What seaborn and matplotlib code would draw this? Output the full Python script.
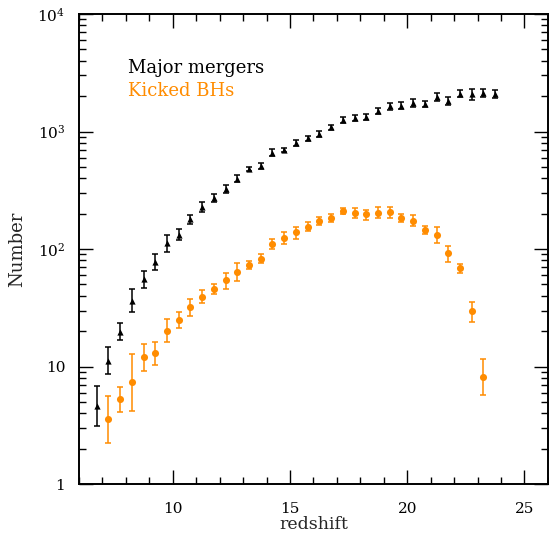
import numpy as np
import pandas as pd
import seaborn as sns
import matplotlib
matplotlib.use("Agg")
import matplotlib.pyplot as plt
from matplotlib.ticker import FixedLocator, FixedFormatter, MultipleLocator

# --- Data ---
z_major = [6.75, 7.25, 7.75, 8.25, 8.75, 9.25, 9.75, 10.25, 10.75, 11.25,
           11.75, 12.25, 12.75, 13.25, 13.75, 14.25, 14.75, 15.25, 15.75, 16.25,
           16.75, 17.25, 17.75, 18.25, 18.75, 19.25, 19.75, 20.25, 20.75, 21.25,
           21.75, 22.25, 22.75, 23.25, 23.75]
n_major = [4.6, 11.2, 19.9, 36.5, 55.7, 78.3, 112, 132, 180, 229,
           274, 325, 395, 482, 514, 663, 695, 806, 879, 956,
           1089, 1258, 1301, 1334, 1492, 1634, 1665, 1745, 1730, 1962,
           1824, 2105, 2080, 2123, 2080]
major_err_lo = [1.45, 2.6, 3.0, 7.1, 8.7, 11.8, 18, 13, 16, 21,
                20, 26, 24, 22, 30, 43, 28, 48, 44, 57,
                55, 82, 78, 80, 90, 115, 117, 140, 104, 157,
                128, 147, 208, 170, 166]
major_err_hi = [2.3, 3.4, 3.5, 9.1, 9.9, 12.7, 20, 15, 15, 22,
                21, 29, 28, 22, 30, 43, 28, 48, 44, 57,
                55, 82, 78, 80, 90, 115, 117, 140, 104, 157,
                128, 147, 208, 170, 166]

z_kicked = [7.25, 7.75, 8.25, 8.75, 9.25, 9.75, 10.25, 10.75, 11.25, 11.75,
            12.25, 12.75, 13.25, 13.75, 14.25, 14.75, 15.25, 15.75, 16.25, 16.75,
            17.25, 17.75, 18.25, 18.75, 19.25, 19.75, 20.25, 20.75, 21.25, 21.75,
            22.25, 22.75, 23.25]
n_kicked = [3.57, 5.34, 7.37, 12.0, 13.0, 20.2, 25.1, 32.0, 39.4, 45.8,
            54.2, 64.4, 73.8, 83.0, 111, 125, 139, 155, 174, 184,
            210, 202, 197, 203, 205, 183, 175, 145, 132, 92.3,
            69.2, 29.6, 8.13]
kicked_err_lo = [1.33, 1.2, 3.15, 2.8, 2.7, 4.1, 3.9, 5.0, 4.6, 4.2,
                 8.6, 10.8, 6.4, 6.3, 11.2, 14, 16, 13, 14, 14,
                 12, 19, 21, 18, 22, 14, 18, 11, 20, 14.5,
                 6.1, 5.4, 2.4]
kicked_err_hi = [2.06, 1.42, 5.4, 3.7, 3.1, 5.1, 4.1, 5.7, 5.3, 4.5,
                 8.1, 11.4, 6.0, 7.5, 10, 14, 16, 14, 13, 15,
                 13, 21, 20, 23, 22, 15, 19, 12, 23, 14.7,
                 6.1, 6.1, 3.4]

y_ticks = [1, 10, 100, 1000, 10000]
y_labels = ['1', '10', '$10^2$', '$10^3$', '$10^4$']

major = pd.DataFrame({'redshift': z_major, 'Number': n_major})
kicked = pd.DataFrame({'redshift': z_kicked, 'Number': n_kicked})

sns.set_style("ticks")
plt.rcParams['font.family'] = ['DejaVu Serif']
plt.rcParams['mathtext.fontset'] = 'dejavuserif'

fig = plt.figure(figsize=(5.49, 5.38), dpi=100)
ax = fig.add_axes([0.144, 0.1, 0.854, 0.874])

orange = '#FF8C00'

# Major mergers
ax.errorbar(z_major, n_major, yerr=[major_err_lo, major_err_hi], fmt='none',
            ecolor='black', elinewidth=1.1, capsize=2.3, capthick=1.1, zorder=2)
sns.scatterplot(data=major, x='redshift', y='Number', marker='^', s=20,
                color='black', edgecolor='black', linewidth=0, ax=ax, zorder=3)

# Kicked BHs
ax.errorbar(z_kicked, n_kicked, yerr=[kicked_err_lo, kicked_err_hi], fmt='none',
            ecolor=orange, elinewidth=1.1, capsize=2.3, capthick=1.1, zorder=2)
sns.scatterplot(data=kicked, x='redshift', y='Number', marker='o', s=26,
                color=orange, edgecolor=orange, linewidth=0, ax=ax, zorder=3)

ax.set_yscale('log')
ax.set_xlim(6, 26)
ax.set_ylim(1, 10000)

ax.xaxis.set_major_locator(MultipleLocator(5))
ax.xaxis.set_minor_locator(MultipleLocator(1))
ax.yaxis.set_major_locator(FixedLocator(y_ticks))
ax.yaxis.set_major_formatter(FixedFormatter(y_labels))

ax.tick_params(which='both', direction='in', top=True, right=True,
               labelsize=11, colors='black')
ax.tick_params(which='major', length=10, width=1.0)
ax.tick_params(which='minor', length=5, width=1.0)
ax.tick_params(axis='x', which='major', pad=13)
ax.tick_params(axis='y', which='major', pad=10)
for sp in ax.spines.values():
    sp.set_linewidth(1.4)
    sp.set_color('black')

ax.set_xlabel('redshift', fontsize=12.5, va='center')
ax.set_ylabel('Number', fontsize=13, labelpad=8)
ax.xaxis.set_label_coords(0.5, -0.085)

ax.text(0.104, 0.885, 'Major mergers', transform=ax.transAxes, fontsize=13,
        color='black', va='center')
ax.text(0.104, 0.836, 'Kicked BHs', transform=ax.transAxes, fontsize=13,
        color=orange, va='center')

fig.savefig('out.png', dpi=100)
